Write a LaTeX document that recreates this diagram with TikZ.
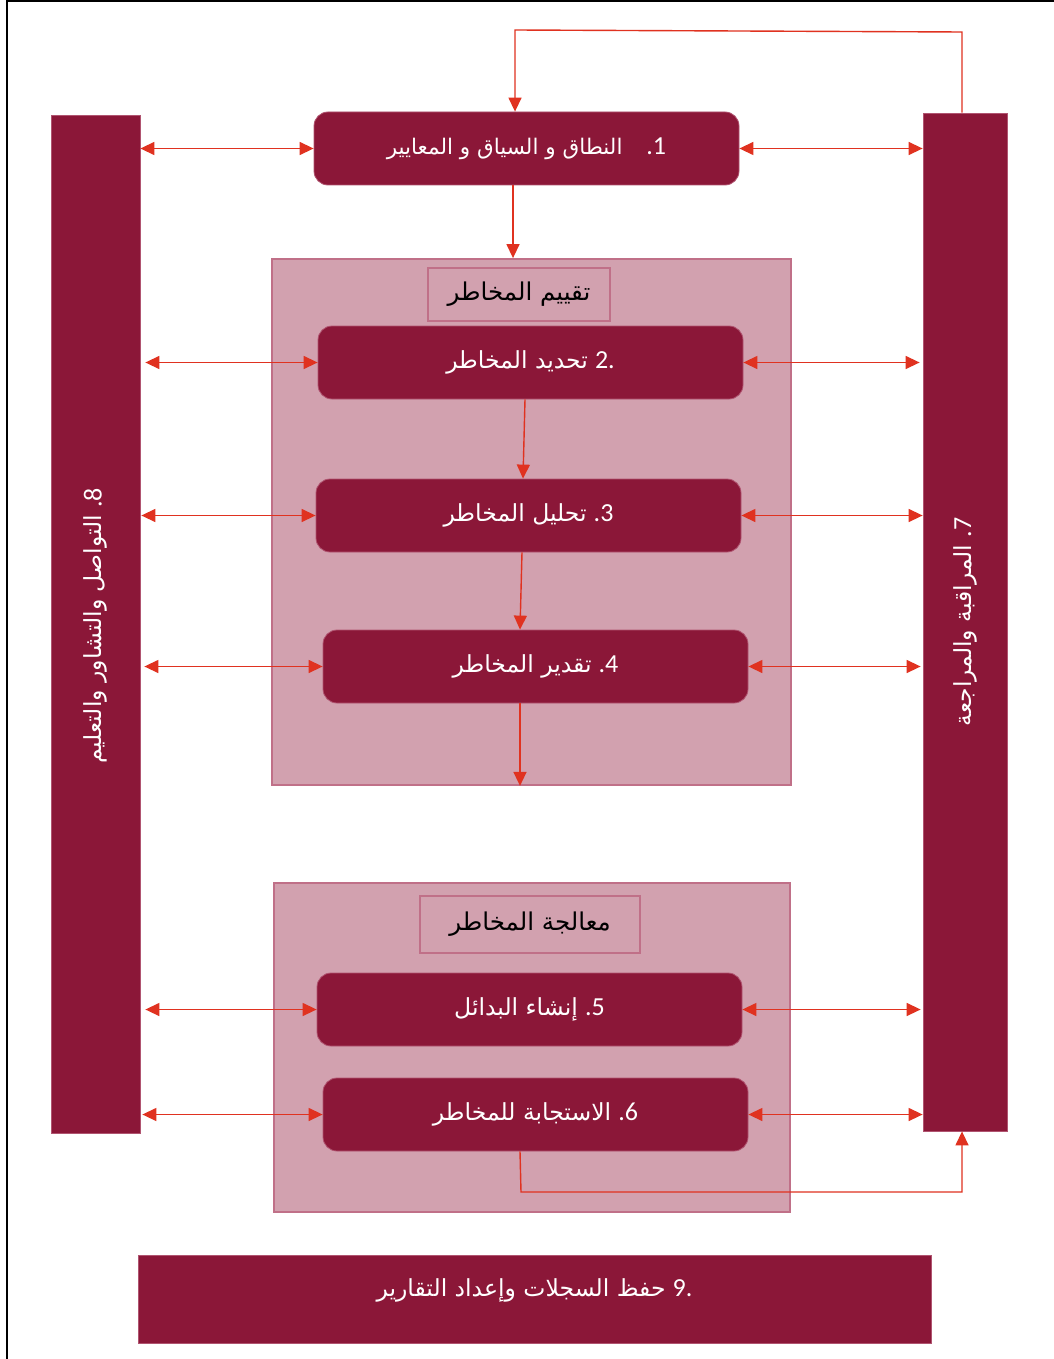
\documentclass[tikz,border=0pt]{standalone}
\usepackage{fontspec}
\usetikzlibrary{arrows.meta}
\TeXXeTstate=1
\newfontfamily\ar[Script=Arabic]{DejaVu Sans}
\newfontfamily\dg{Carlito}
\newcommand{\num}[1]{{\dg\fontsize{26}{28}\selectfont #1}}
\definecolor{dark}{RGB}{139,23,56}
\definecolor{darkedge}{RGB}{176,84,112}
\definecolor{grp}{RGB}{210,161,175}
\definecolor{grpedge}{RGB}{192,112,136}
\definecolor{arrred}{RGB}{224,50,32}
\tikzset{
  pbox/.style={fill=dark, draw=darkedge, line width=0.8pt, rounded corners=14pt,
    minimum width=425pt, minimum height=73pt, text=white, inner sep=0pt,
    font=\fontsize{23.5}{27}\selectfont},
  bar/.style={fill=dark, draw=darkedge, line width=0.8pt, text=white, inner sep=0pt,
    font=\fontsize{23.5}{27}\selectfont},
  vtext/.style={rotate=90, text=white, font=\fontsize{23.5}{27}\selectfont},
  grpbox/.style={fill=grp, draw=grpedge, line width=1.8pt, inner sep=0pt},
  ttlbox/.style={fill=grp, draw=grpedge, line width=1.3pt, inner sep=0pt,
    font=\fontsize{24.5}{28}\selectfont, text=black},
  arr/.style={draw=arrred, line width=1.4pt, -{Triangle[length=14pt,width=13pt]}, arrred},
  dbl/.style={draw=arrred, line width=1.4pt, {Triangle[length=14pt,width=13pt]}-{Triangle[length=14pt,width=13pt]}, arrred}
}
\begin{document}
\begin{tikzpicture}[x=1pt,y=-1pt]
\useasboundingbox (0,0) rectangle (1054,1359);
\fill[white] (0,0) rectangle (1054,1359);
% page frame
\draw[black, line width=2pt] (7,1359) -- (7,1) -- (1054,1);

% bars
\node[bar, minimum width=89pt, minimum height=1018pt] (bar8) at (95.5,624) {};
\node[vtext] (bar8t) at (95.5,626)
  {{\ar\beginR التواصل والتشاور والتعليم\endR}\ \num{.8}};
\node[bar, minimum width=84pt, minimum height=1018pt] (bar7) at (965,622) {};
\node[vtext] (bar7t) at (965,622)
  {{\ar\beginR المراقبة والمراجعة\endR}\ \num{.7}};

% groups
\node[grpbox, minimum width=519pt, minimum height=526pt] (g1) at (531.5,522) {};
\node[grpbox, minimum width=516pt, minimum height=329pt] (g2) at (532,1047.5) {};
\node[ttlbox, minimum width=182pt, minimum height=53pt] (t1) at (519,294.5)
  {\ar\beginR تقييم المخاطر\endR};
\node[ttlbox, minimum width=220pt, minimum height=57pt] (t2) at (530,924.5)
  {\ar\beginR معالجة المخاطر\endR};

% process boxes
\node[pbox, font=\fontsize{21.5}{25}\selectfont] (b1) at (526.5,148.5)
  {{\ar\beginR النطاق و السياق و المعايير\endR}\hspace{24pt}\num{.1}};
\node[pbox] (b2) at (530.5,362.5)
  {{\ar\beginR تحديد المخاطر\endR}\ \num{2.}};
\node[pbox] (b3) at (528.5,515.5)
  {{\ar\beginR تحليل المخاطر\endR}\ \num{.3}};
\node[pbox] (b4) at (535.5,666.5)
  {{\ar\beginR تقدير المخاطر\endR}\ \num{.4}};
\node[pbox] (b5) at (529.5,1009.5)
  {{\ar\beginR إنشاء البدائل\endR}\ \num{.5}};
\node[pbox] (b6) at (535.5,1114.5)
  {{\ar\beginR الاستجابة للمخاطر\endR}\ \num{.6}};
\node[bar, minimum width=793pt, minimum height=88pt, text height=10pt, text depth=16pt] (b9) at (534.5,1299)
  {{\ar\beginR حفظ السجلات وإعداد التقارير\endR}\ \num{9.}};

% coordinates for loops
\coordinate (topR) at (962,32);
\coordinate (topL) at (515,30);
\coordinate (botL) at (521,1192);
\coordinate (botR) at (962,1192);

% vertical flow
\draw[arr] ([xshift=-3pt]bar7.north) -- (topR) -- (topL) -- ([xshift=-11.5pt]b1.north);
\draw[arr] ([xshift=-13.5pt]b1.south) -- ([xshift=-18.5pt]g1.north);
\draw[arr] ([xshift=-5.5pt]b2.south) -- ([xshift=-5.5pt]b3.north);
\draw[arr] ([xshift=-6.5pt]b3.south) -- ([xshift=-15.5pt]b4.north);
\draw[arr] ([xshift=-15.5pt]b4.south) -- ([xshift=-11.5pt]g1.south);
\draw[arr] ([xshift=-15.5pt]b6.south) -- (botL) -- (botR) -- ([xshift=-3pt]bar7.south);

% side double arrows
\foreach \b/\ls/\rs in {b1/0/0, b2/5/3, b3/1/0, b4/4/2, b5/5/2, b6/2/0}{
  \draw[dbl, shorten <=\ls pt] (bar8.east |- \b) -- (\b.west);
  \draw[dbl, shorten >=\rs pt] (\b.east) -- (bar7.west |- \b);
}
\end{tikzpicture}
\end{document}
